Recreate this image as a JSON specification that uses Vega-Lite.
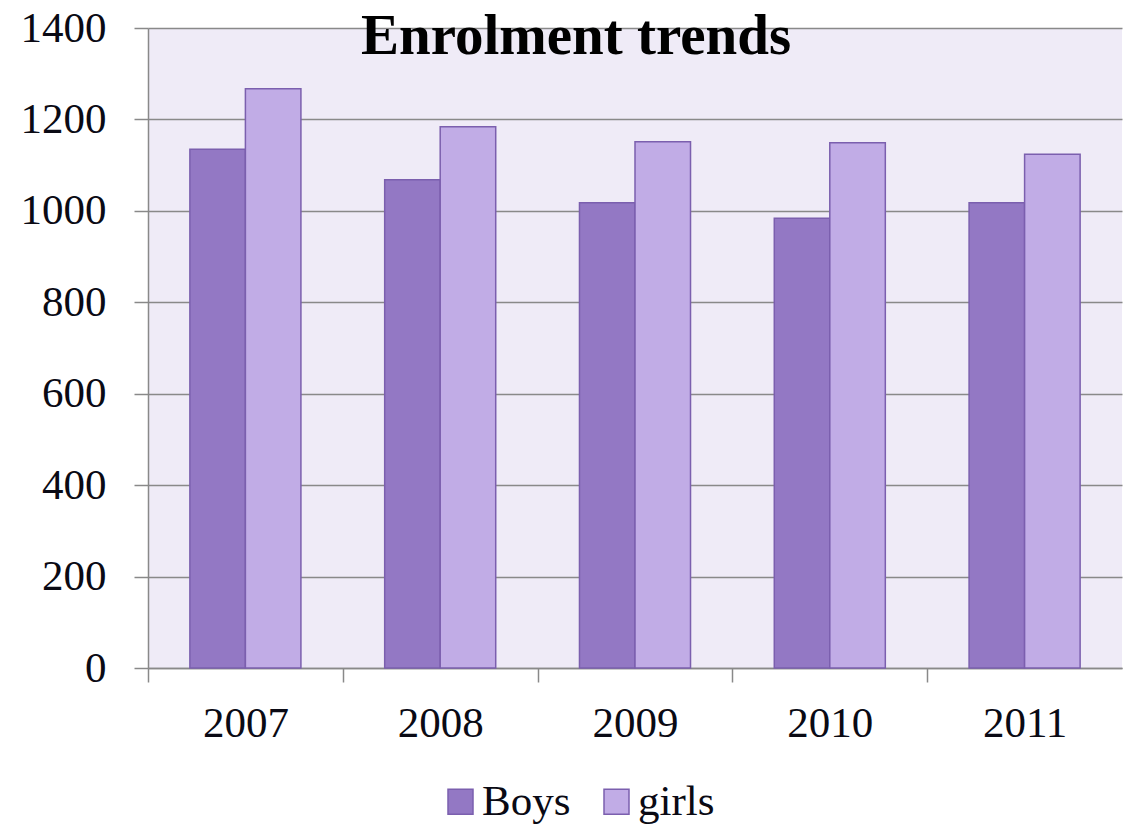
{
  "$schema": "https://vega.github.io/schema/vega-lite/v6.json",
  "width": 974,
  "height": 640,
  "autosize": "none",
  "padding": {"left": 148, "top": 28, "right": 7, "bottom": 159},
  "background": "white",
  "title": {
    "text": "Enrolment trends",
    "font": "Liberation Serif",
    "fontSize": 57,
    "fontWeight": "bold",
    "color": "#000000",
    "anchor": "middle",
    "frame": "group",
    "dx": -59,
    "offset": 0,
    "dy": 104,
    "baseline": "alphabetic"
  },
  "data": {
    "values": [
      {"year": "2007", "gender": "Boys", "value": 1135},
      {"year": "2007", "gender": "girls", "value": 1267},
      {"year": "2008", "gender": "Boys", "value": 1068},
      {"year": "2008", "gender": "girls", "value": 1184},
      {"year": "2009", "gender": "Boys", "value": 1018},
      {"year": "2009", "gender": "girls", "value": 1151},
      {"year": "2010", "gender": "Boys", "value": 984},
      {"year": "2010", "gender": "girls", "value": 1149},
      {"year": "2011", "gender": "Boys", "value": 1018},
      {"year": "2011", "gender": "girls", "value": 1124}
    ]
  },
  "mark": {"type": "bar", "stroke": "#7B5FAE", "strokeWidth": 1.5},
  "encoding": {
    "x": {
      "field": "year",
      "type": "nominal",
      "scale": {"paddingInner": 0.43, "paddingOuter": 0.215},
      "axis": {
        "title": null,
        "labelAngle": 0,
        "labelFont": "Liberation Serif",
        "labelFontSize": 43,
        "labelColor": "#0a0a14",
        "labelPadding": 20,
        "tickOffset": -97.4,
        "labelOffset": 97.4,
        "tickSize": 14,
        "tickColor": "#898989",
        "tickWidth": 1.5,
        "domainColor": "#898989",
        "domainWidth": 1.5
      }
    },
    "xOffset": {"field": "gender", "sort": ["Boys", "girls"]},
    "y": {
      "field": "value",
      "type": "quantitative",
      "scale": {"domain": [0, 1400], "nice": false},
      "axis": {
        "title": null,
        "values": [0, 200, 400, 600, 800, 1000, 1200, 1400],
        "format": "d",
        "labelFont": "Liberation Serif",
        "labelFontSize": 43,
        "labelColor": "#0a0a14",
        "labelPadding": 28,
        "tickSize": 14,
        "tickColor": "#898989",
        "tickWidth": 1.5,
        "domainColor": "#898989",
        "domainWidth": 1.5,
        "grid": true,
        "gridColor": "#898989",
        "gridWidth": 1.5
      }
    },
    "color": {
      "field": "gender",
      "type": "nominal",
      "scale": {"domain": ["Boys", "girls"], "range": ["#9378C4", "#C1ACE6"]},
      "legend": {
        "title": null,
        "orient": "none",
        "direction": "horizontal",
        "legendX": 291,
        "legendY": 752,
        "symbolType": "square",
        "symbolSize": 625,
        "symbolStrokeColor": "#7B5FAE",
        "symbolStrokeWidth": 1.5,
        "symbolOpacity": 1,
        "labelFont": "Liberation Serif",
        "labelFontSize": 43,
        "labelColor": "#0a0a14",
        "labelOffset": 0,
        "columnPadding": 24
      }
    }
  },
  "config": {"view": {"fill": "#EFEBF7", "stroke": null}}
}
